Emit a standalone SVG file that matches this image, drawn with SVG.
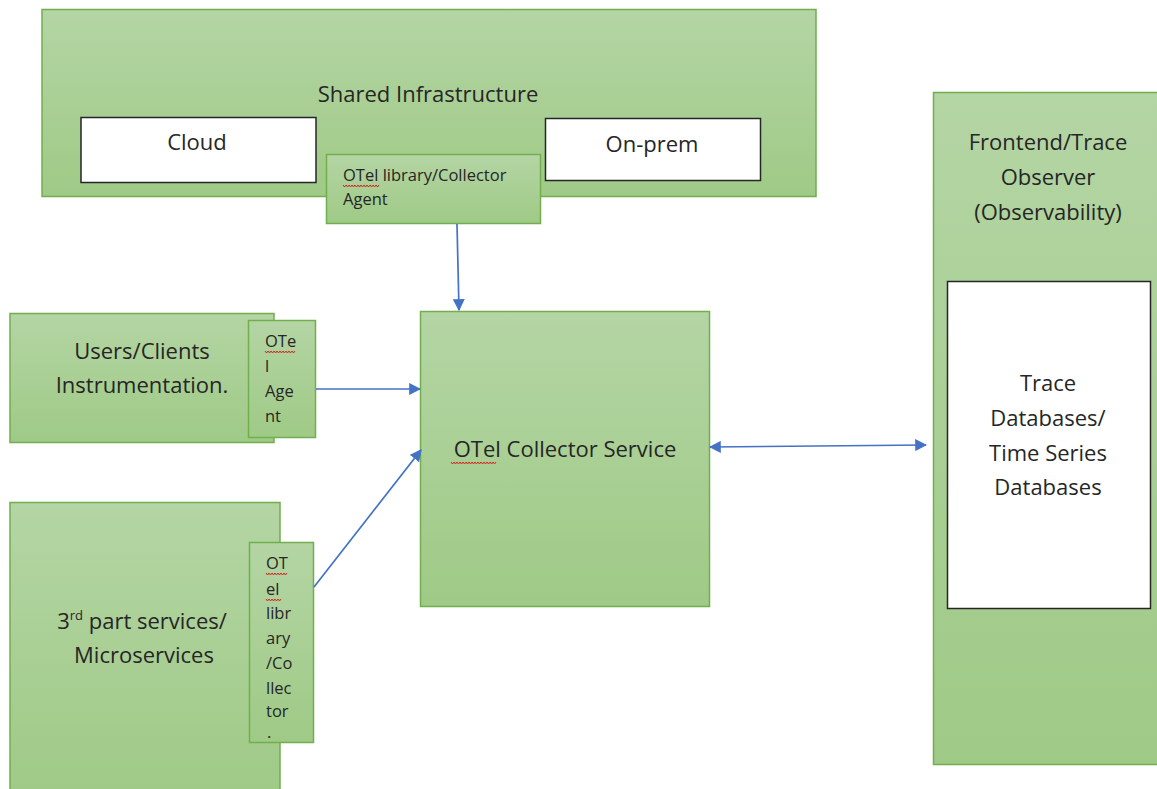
<svg xmlns="http://www.w3.org/2000/svg" width="1157" height="789" viewBox="0 0 1157 789">
<defs>
<linearGradient id="g" x1="0" y1="0" x2="0" y2="1">
<stop offset="0" stop-color="#b4d5a4"/>
<stop offset="1" stop-color="#9fca86"/>
</linearGradient>
<marker id="ah" viewBox="0 0 10 10" refX="9" refY="5" markerWidth="12" markerHeight="12" markerUnits="userSpaceOnUse" orient="auto-start-reverse">
<path d="M0,0 L10,5 L0,10 z" fill="#4472c4"/>
</marker>
</defs>
<style>
.gb{fill:url(#g);stroke:#72ae4e;stroke-width:1.5}
.wb{fill:#fff;stroke:#262626;stroke-width:1.5}
.t{font-family:"Open Sans","Liberation Sans",sans-serif;fill:#262626;text-anchor:middle;font-size:22px}
.s{font-family:"Open Sans","Liberation Sans",sans-serif;fill:#262626;font-size:16.5px}
.c{stroke:#4472c4;stroke-width:1.7;fill:none}
.w{fill:none;stroke:#e02020;stroke-width:1}
</style>
<rect width="1157" height="789" fill="#fff"/>

<g id="shared">
<rect class="gb" x="42" y="9.5" width="774" height="187"/>
<text class="t" x="428" y="102">Shared Infrastructure</text>
</g>
<g id="cloud">
<rect class="wb" x="81" y="117.5" width="235" height="65"/>
<text class="t" x="197" y="150">Cloud</text>
</g>
<g id="onprem">
<rect class="wb" x="545.5" y="118.5" width="215" height="62"/>
<text class="t" x="652" y="152">On-prem</text>
</g>
<g id="otel-agent-top">
<rect class="gb" x="326.5" y="154.5" width="214" height="69"/>
<text class="s" x="343" y="181">OTel library/Collector</text>
<text class="s" x="343" y="205">Agent</text>
</g>

<g id="users">
<rect class="gb" x="10" y="313.5" width="264" height="129"/>
<text class="t" x="142" y="359">Users/Clients</text>
<text class="t" x="142" y="393">Instrumentation.</text>
</g>
<g id="otel-agent-users">
<rect class="gb" x="248.5" y="320.5" width="67" height="117"/>
<text class="s" x="265" y="347">OTe</text>
<text class="s" x="265" y="372">l</text>
<text class="s" x="265" y="397">Age</text>
<text class="s" x="265" y="422">nt</text>
</g>

<g id="thirdparty">
<rect class="gb" x="10" y="502.5" width="270" height="295"/>
<text class="t" x="142" y="629">3<tspan font-size="13" dy="-9">rd</tspan><tspan dy="9"> part services/</tspan></text>
<text class="t" x="144" y="663">Microservices</text>
</g>
<g id="otel-lib-3rd">
<rect class="gb" x="249.5" y="542.5" width="64" height="200"/>
<text class="s" x="266" y="569">OT</text>
<text class="s" x="266" y="595">el</text>
<text class="s" x="266" y="619">libr</text>
<text class="s" x="266" y="644">ary</text>
<text class="s" x="266" y="669">/Co</text>
<text class="s" x="266" y="694">llec</text>
<text class="s" x="266" y="717">tor</text>
<text class="s" x="267" y="738" font-size="11">.</text>
</g>

<g id="collector">
<rect class="gb" x="420.5" y="311.5" width="289" height="295"/>
<text class="t" x="565" y="457">OTel Collector Service</text>
</g>

<g id="frontend">
<rect class="gb" x="933.5" y="92.5" width="230" height="672"/>
<text class="t" x="1048" y="150">Frontend/Trace</text>
<text class="t" x="1048" y="185">Observer</text>
<text class="t" x="1048" y="220">(Observability)</text>
</g>
<g id="tracedb">
<rect class="wb" x="947.5" y="281.5" width="203" height="327"/>
<text class="t" x="1048" y="391">Trace</text>
<text class="t" x="1048" y="426">Databases/</text>
<text class="t" x="1048" y="461">Time Series</text>
<text class="t" x="1048" y="495">Databases</text>
</g>

<g id="spellcheck">
<path class="w" d="M343,185 l1.5,2 l1.5,-2 l1.5,2 l1.5,-2 l1.5,2 l1.5,-2 l1.5,2 l1.5,-2 l1.5,2 l1.5,-2 l1.5,2 l1.5,-2 l1.5,2 l1.5,-2 l1.5,2 l1.5,-2 l1.5,2 l1.5,-2 l1.5,2 l1.5,-2 l1.5,2 l1.5,-2 l1.5,2 l1.5,-2"/>
<path class="w" d="M265,351 l1.5,2 l1.5,-2 l1.5,2 l1.5,-2 l1.5,2 l1.5,-2 l1.5,2 l1.5,-2 l1.5,2 l1.5,-2 l1.5,2 l1.5,-2 l1.5,2 l1.5,-2 l1.5,2 l1.5,-2 l1.5,2 l1.5,-2 l1.5,2 l1.5,-2"/>
<path class="w" d="M266,573 l1.5,2 l1.5,-2 l1.5,2 l1.5,-2 l1.5,2 l1.5,-2 l1.5,2 l1.5,-2 l1.5,2 l1.5,-2 l1.5,2 l1.5,-2 l1.5,2 l1.5,-2"/>
<path class="w" d="M266,599 l1.5,2 l1.5,-2 l1.5,2 l1.5,-2 l1.5,2 l1.5,-2 l1.5,2 l1.5,-2 l1.5,2 l1.5,-2"/>
<path class="w" d="M451,462 l1.5,2 l1.5,-2 l1.5,2 l1.5,-2 l1.5,2 l1.5,-2 l1.5,2 l1.5,-2 l1.5,2 l1.5,-2 l1.5,2 l1.5,-2 l1.5,2 l1.5,-2 l1.5,2 l1.5,-2 l1.5,2 l1.5,-2 l1.5,2 l1.5,-2 l1.5,2 l1.5,-2 l1.5,2 l1.5,-2 l1.5,2 l1.5,-2 l1.5,2 l1.5,-2 l1.5,2 l1.5,-2"/>
</g>

<g id="connectors">
<line class="c" x1="457" y1="224" x2="459" y2="310" marker-end="url(#ah)"/>
<line class="c" x1="316" y1="389" x2="420" y2="389" marker-end="url(#ah)"/>
<line class="c" x1="314" y1="587" x2="421" y2="450" marker-end="url(#ah)"/>
<line class="c" x1="710" y1="447" x2="926" y2="445" marker-start="url(#ah)" marker-end="url(#ah)"/>
</g>
</svg>
